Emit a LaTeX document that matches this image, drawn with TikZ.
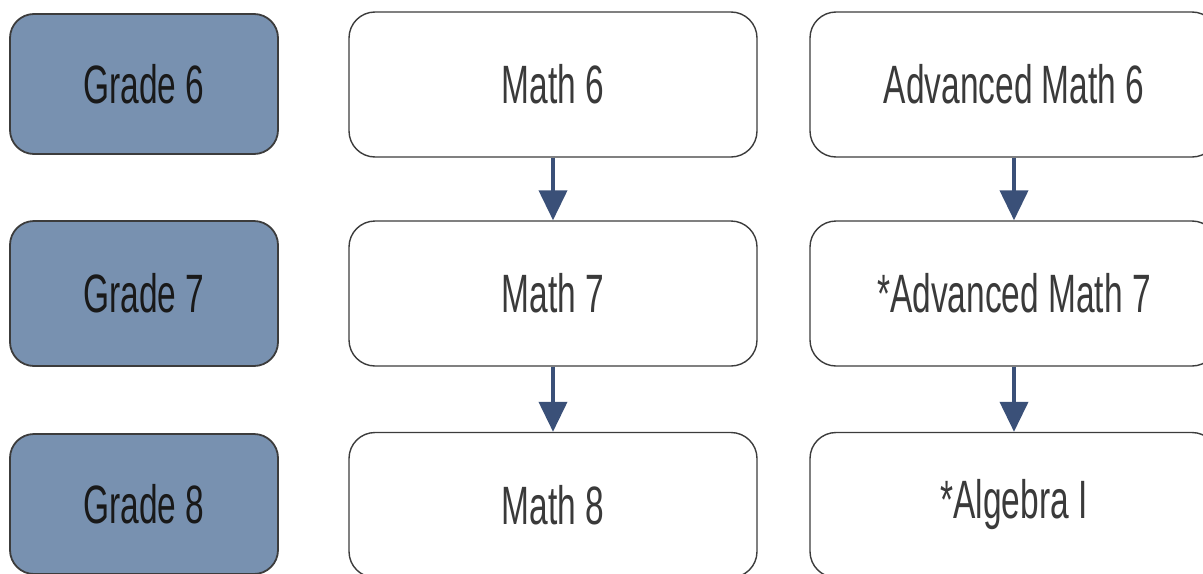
\documentclass[tikz,border=0pt]{standalone}
\usepackage{fontspec}
\setmainfont{Liberation Sans}[FakeStretch=0.62]
\usetikzlibrary{arrows.meta}
\definecolor{gradefill}{HTML}{7891B0}
\definecolor{boxline}{HTML}{3C3C3C}
\definecolor{arrowblue}{HTML}{3A5078}
\definecolor{coursetext}{HTML}{3A3A3A}
\tikzset{
  gradebox/.style={draw=boxline, fill=gradefill, line width=0.9pt, rounded corners=12pt,
    minimum width=134pt, minimum height=70pt, text=black!90, font=\fontsize{27}{30}\selectfont},
  coursebox/.style={draw=boxline, fill=white, line width=0.7pt, rounded corners=13pt,
    minimum width=204pt, minimum height=72.5pt, text=coursetext, font=\fontsize{27}{30}\selectfont},
  nextcourse/.style={draw=arrowblue, line width=2pt, -{Triangle[length=15pt,width=14pt]}}
}
\begin{document}
\begin{tikzpicture}[x=0.5pt, y=-0.5pt]
  \useasboundingbox (0,0) rectangle (1203,573);

  % Grade labels
  \node[gradebox] (g6) at (144,84) {Grade 6};
  \node[gradebox, minimum height=72.5pt] (g7) at (144,293.5) {Grade 7};
  \node[gradebox] (g8) at (144,504) {Grade 8};

  % Regular track
  \node[coursebox] (m6) at (553,84.5) {Math 6};
  \node[coursebox] (m7) at (553,293.5) {Math 7};
  \node[coursebox] (m8) at (553,505) {Math 8};

  % Advanced track
  \node[coursebox] (a6) at (1014,84.5) {Advanced Math 6};
  \node[coursebox] (a7) at (1014,293.5) {*Advanced Math 7};
  \node[coursebox] (a8) at (1014,505) {*Algebra I};

  % Course sequence
  \draw[nextcourse] (m6) -- (m7);
  \draw[nextcourse] (m7) -- (m8);
  \draw[nextcourse] (a6) -- (a7);
  \draw[nextcourse] (a7) -- (a8);
\end{tikzpicture}
\end{document}
